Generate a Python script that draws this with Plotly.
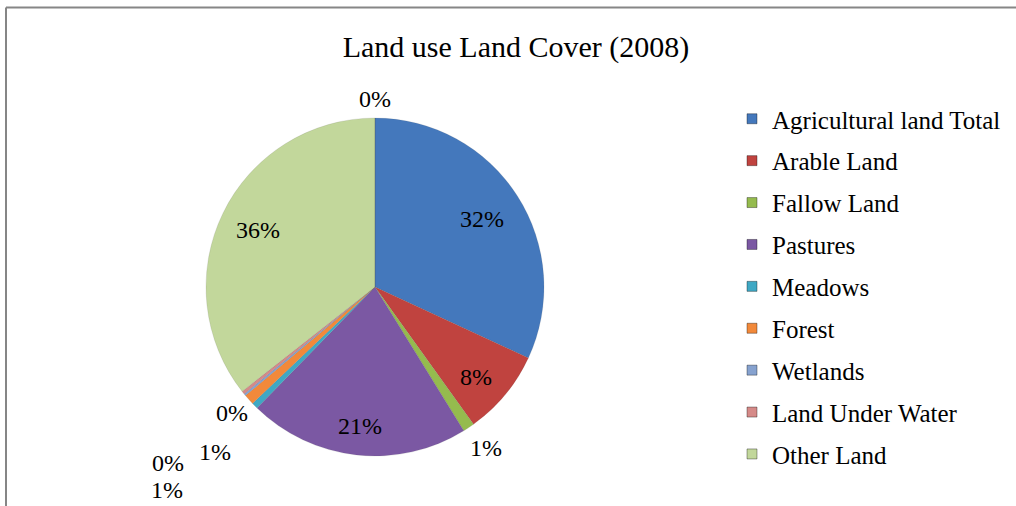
import plotly.graph_objects as go
import math

# ---- data ----
categories = ["Agricultural land Total", "Arable Land", "Fallow Land", "Pastures",
              "Meadows", "Forest", "Wetlands", "Land Under Water", "Other Land", ""]
values = [31.9, 8.2, 1.1, 21.1, 0.6, 1.0, 0.2, 0.3, 35.6, 0.0]
title_text = "Land use Land Cover (2008)"

# ---- style ----
colors = ["#4478BC", "#C0433F", "#95BB4E", "#7B58A3", "#3FA8C4",
          "#F2893A", "#86A2CF", "#D58A88", "#C2D79B", "#FFFFFF"]
label_radius = [0.75, 0.80, 1.16, 0.83, 1.36, 1.72, 1.13, 1.61, 0.77, 1.11]
label_nudge = [0, 2, -1, 0, -1.4, -2.6, -1.8, -1.7, 0, 0]
W, H = 1016, 506
cx, cy, R = 375, 287, 169
FONT = "Liberation Serif, Times New Roman, serif"

fig = go.Figure()
fig.add_trace(go.Pie(
    labels=categories, values=values, sort=False, direction="clockwise", rotation=0,
    marker=dict(colors=colors, line=dict(color="rgba(80,80,80,0.25)", width=0.5)),
    textinfo="none", textposition="none", showlegend=False, hoverinfo="label+percent",
    domain=dict(x=[(cx - R) / W, (cx + R) / W], y=[1 - (cy + R) / H, 1 - (cy - R) / H]),
))

# legend entries (one per named category)
for name, col in zip(categories, colors):
    if not name:
        continue
    fig.add_trace(go.Scatter(
        x=[None], y=[None], mode="markers", name=name, legendgroup=name,
        marker=dict(symbol="square", size=10, color=col, line=dict(color="rgba(0,0,0,0.35)", width=1)),
    ))

# percentage labels, positioned from the slice angles
total = sum(values)
cum = 0.0
for v, rf, nd in zip(values, label_radius, label_nudge):
    mid = 360.0 * (cum + v / 2) / total + nd
    cum += v
    a = math.radians(mid)
    px = cx + rf * R * math.sin(a)
    py = cy - rf * R * math.cos(a)
    fig.add_annotation(x=px / W, y=1 - py / H, xref="paper", yref="paper",
                       xanchor="center", yanchor="middle",
                       text=f"{round(100 * v / total)}%", showarrow=False,
                       font=dict(family=FONT, size=24, color="#000000"))

# chart frame: top and left edges (the rest lies outside the picture)
frame = dict(color="#868686", width=2)
fig.add_shape(type="line", xref="paper", yref="paper",
              x0=6 / W, x1=1.0, y0=1 - 7.5 / H, y1=1 - 7.5 / H, line=frame)
fig.add_shape(type="line", xref="paper", yref="paper",
              x0=6 / W, x1=6 / W, y0=0.0, y1=1 - 7.5 / H, line=frame)

fig.update_layout(
    width=W, height=H, autosize=False,
    margin=dict(l=0, r=0, t=0, b=0, autoexpand=False),
    paper_bgcolor="white", plot_bgcolor="white",
    title=dict(text=title_text, x=516 / W, xanchor="center", y=1 - 46 / H, yanchor="middle",
               font=dict(family=FONT, size=30, color="#000000")),
    xaxis=dict(visible=False), yaxis=dict(visible=False),
    legend=dict(x=732 / W, y=1 - 96 / H, xanchor="left", yanchor="top",
                font=dict(family=FONT, size=25, color="#000000"),
                tracegroupgap=6.4, bgcolor="rgba(0,0,0,0)"),
    showlegend=True,
)

fig.write_html("out.html", config={"displayModeBar": False},
               post_script="document.body.style.margin='0';")
